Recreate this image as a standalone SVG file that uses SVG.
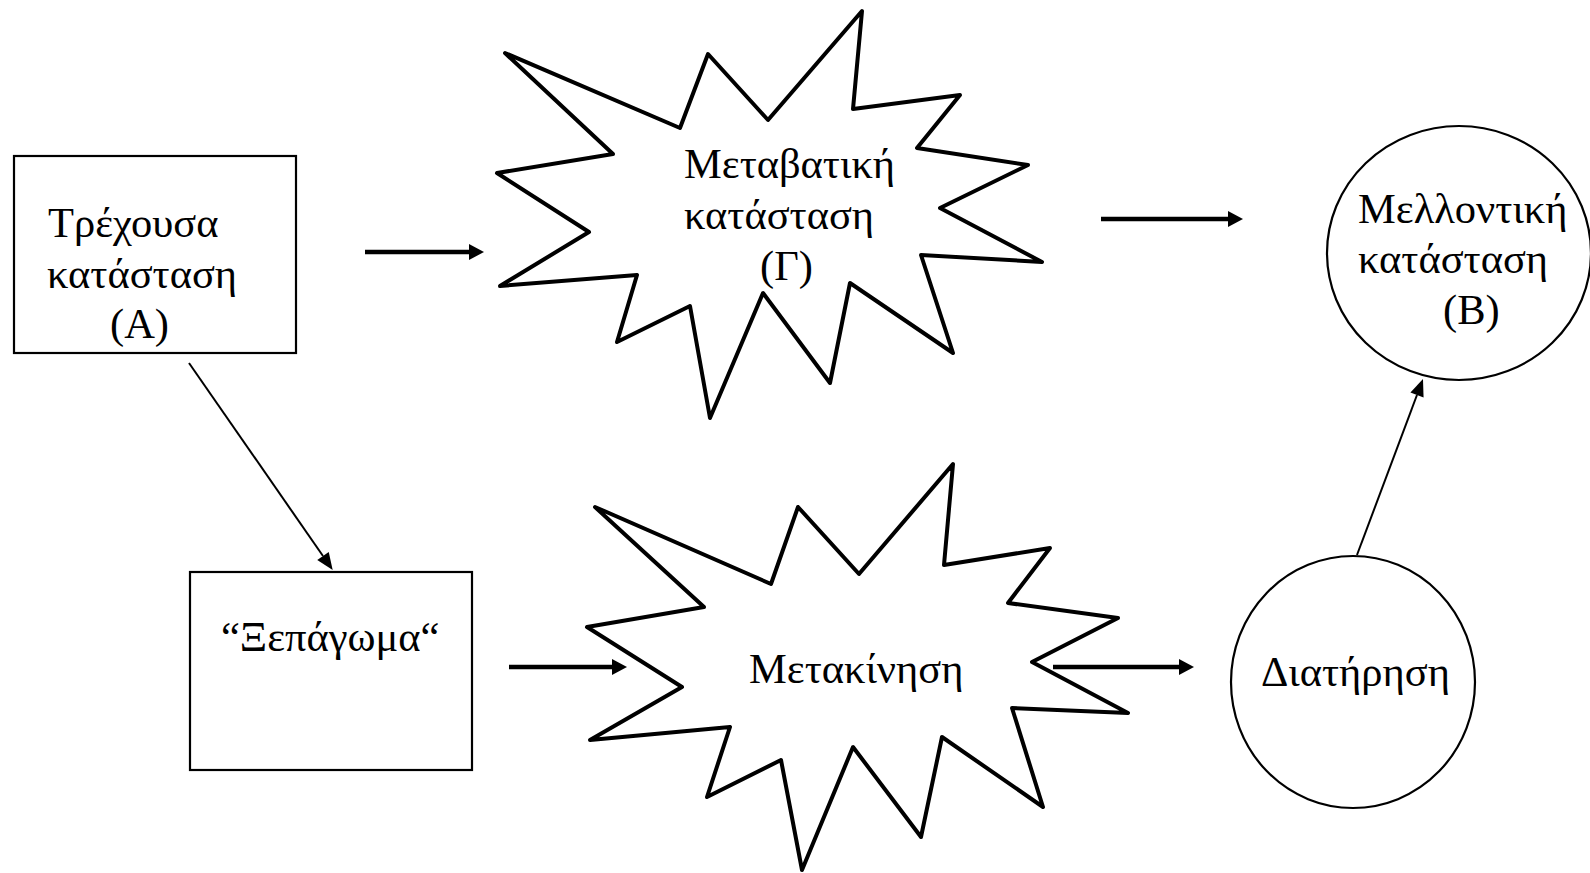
<svg xmlns="http://www.w3.org/2000/svg" width="1590" height="873" viewBox="0 0 1590 873">
  <style>
    .box { fill: #fff; stroke: #000; stroke-width: 2.2; }
    .star { fill: #fff; stroke: #000; stroke-width: 4; stroke-linejoin: round; }
    .ring { fill: #fff; stroke: #000; stroke-width: 2.2; }
    .label { font-family: "Liberation Serif", "Times New Roman", serif; font-size: 42.5px; fill: #000; }
    .thick { stroke: #000; stroke-width: 4.5; fill: none; }
    .thin { stroke: #000; stroke-width: 2; fill: none; }
  </style>
  <defs>
    <marker id="headThick" markerUnits="userSpaceOnUse" markerWidth="16" markerHeight="18" viewBox="0 -9 16 18" refX="0" refY="0" orient="auto" overflow="visible">
      <path d="M0,-8 L15,0 L0,8 z" fill="#000"/>
    </marker>
    <marker id="headThin" markerUnits="userSpaceOnUse" markerWidth="18" markerHeight="16" viewBox="0 -8 18 16" refX="0" refY="0" orient="auto" overflow="visible">
      <path d="M0,-7 L17,0 L0,7 z" fill="#000"/>
    </marker>
  </defs>

  <rect width="1590" height="873" fill="#fff"/>

  <!-- current state (A) -->
  <g id="node-current">
    <rect class="box" x="14" y="156" width="282" height="197"/>
    <text class="label" x="48" y="237">Τρέχουσα</text>
    <text class="label" x="47" y="288">κατάσταση</text>
    <text class="label" x="110" y="338">(Α)</text>
  </g>

  <!-- transitional state (Γ) -->
  <g id="node-transitional">
    <polygon class="star" points="505,53 680,128 708,54 768,120 862,11 853,109 960,95 917,148 1028,165 940,208 1042,262 921,255 953,353 850,283 830,383 763,293 710,418 690,306 617,342 637,275 500,286 589,232 497,173 613,154"/>
    <text class="label" x="684" y="178">Μεταβατική</text>
    <text class="label" x="684" y="229">κατάσταση</text>
    <text class="label" x="760" y="280">(Γ)</text>
  </g>

  <!-- future state (B) -->
  <g id="node-future">
    <ellipse class="ring" cx="1459" cy="253" rx="132" ry="127"/>
    <text class="label" x="1358" y="223">Μελλοντική</text>
    <text class="label" x="1358" y="273">κατάσταση</text>
    <text class="label" x="1443" y="324">(Β)</text>
  </g>

  <!-- unfreezing -->
  <g id="node-unfreeze">
    <rect class="box" x="190" y="572" width="282" height="198"/>
    <text class="label" x="221" y="651">“Ξεπάγωμα“</text>
  </g>

  <!-- movement -->
  <g id="node-movement">
    <polygon class="star" points="595,507 771,584 798,507 859,574 953,464 944,565 1050,548 1008,603 1118,618 1032,662 1128,713 1012,708 1043,807 942,737 921,837 853,747 802,870 781,760 707,797 730,727 590,740 682,687 587,627 704,607"/>
    <text class="label" x="749" y="683">Μετακίνηση</text>
  </g>

  <!-- maintenance -->
  <g id="node-maintain">
    <ellipse class="ring" cx="1353" cy="682" rx="122" ry="126"/>
    <text class="label" x="1261" y="686">Διατήρηση</text>
  </g>

  <!-- connectors -->
  <g id="connectors">
    <line class="thick" x1="365" y1="252" x2="469" y2="252" marker-end="url(#headThick)"/>
    <line class="thick" x1="1101" y1="219" x2="1228" y2="219" marker-end="url(#headThick)"/>
    <line class="thick" x1="509" y1="667" x2="612" y2="667" marker-end="url(#headThick)"/>
    <line class="thick" x1="1053" y1="667" x2="1179" y2="667" marker-end="url(#headThick)"/>
    <line class="thin" x1="189" y1="363" x2="323" y2="556" marker-end="url(#headThin)"/>
    <line class="thin" x1="1357" y1="555" x2="1417" y2="395" marker-end="url(#headThin)"/>
  </g>
</svg>
